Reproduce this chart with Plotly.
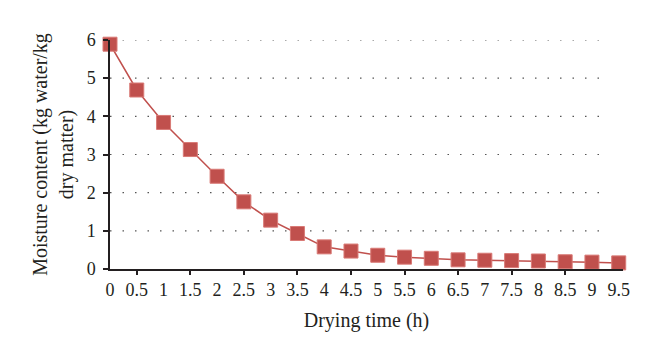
import plotly.graph_objects as go

time_h = [0, 0.5, 1, 1.5, 2, 2.5, 3, 3.5, 4, 4.5, 5, 5.5, 6, 6.5, 7, 7.5, 8, 8.5, 9, 9.5]
moisture = [5.89, 4.69, 3.84, 3.13, 2.43, 1.76, 1.28, 0.93, 0.58, 0.47, 0.36,
            0.31, 0.28, 0.24, 0.23, 0.22, 0.21, 0.19, 0.18, 0.16]
x_tick_labels = ["0", "0.5", "1", "1.5", "2", "2.5", "3", "3.5", "4", "4.5", "5",
                 "5.5", "6", "6.5", "7", "7.5", "8", "8.5", "9", "9.5"]
x_tick_marks = [0.5, 1.5, 2.5, 3.5, 4.5, 5.5, 6.5, 7.5, 8.5]
y_ticks = [0, 1, 2, 3, 4, 5, 6]
y_grid = [1, 2, 3, 4, 5, 6]

FONT = "Liberation Serif"
RED = "#c0504d"

fig = go.Figure()
fig.add_trace(go.Scatter(
    x=time_h, y=moisture, mode="lines+markers",
    line=dict(color=RED, width=1.5),
    marker=dict(symbol="square", size=14, color=RED,
                line=dict(color="#d97a76", width=1)),
    cliponaxis=False, showlegend=False,
))
# invisible trace for the tick-mark axis
fig.add_trace(go.Scatter(x=[0, 9.5], y=[0, 0], xaxis="x2", mode="none",
                         showlegend=False, hoverinfo="skip"))

for g in y_grid:
    fig.add_shape(type="line", xref="paper", yref="y", x0=0, x1=0.97, y0=g, y1=g,
                  line=dict(color="#555555", width=1.2, dash="1.5px,11px"),
                  layer="below")

fig.update_layout(
    width=660, height=360,
    margin=dict(l=102, r=45, t=32, b=99),
    paper_bgcolor="white", plot_bgcolor="white",
    font=dict(family=FONT, size=18, color="#231f20"),
    xaxis=dict(
        range=[0, 9.58], tickvals=time_h, ticktext=x_tick_labels,
        ticks="", showgrid=False, zeroline=False, automargin=False,
        showline=True, linecolor="#231f20", linewidth=1.5,
        tickfont=dict(size=18), ticklabelstandoff=4,
        title=dict(text="Drying time (h)", font=dict(size=20), standoff=14),
    ),
    xaxis2=dict(
        overlaying="x", matches="x", side="bottom",
        tickvals=x_tick_marks, showticklabels=False,
        ticks="outside", ticklen=5, tickwidth=1.5, tickcolor="#231f20",
        showgrid=False, zeroline=False, showline=False,
    ),
    yaxis=dict(
        range=[0, 6], tickvals=y_ticks, automargin=False,
        ticks="outside", ticklen=5, tickwidth=1.5, tickcolor="#231f20",
        showline=True, linecolor="#231f20", linewidth=1.5,
        showgrid=False, zeroline=False, tickfont=dict(size=18), ticklabelstandoff=4,
        title=dict(text="Moisture content (kg water/kg<br>dry matter)",
                   font=dict(size=20), standoff=8),
    ),
)

fig.write_html("out.html")
